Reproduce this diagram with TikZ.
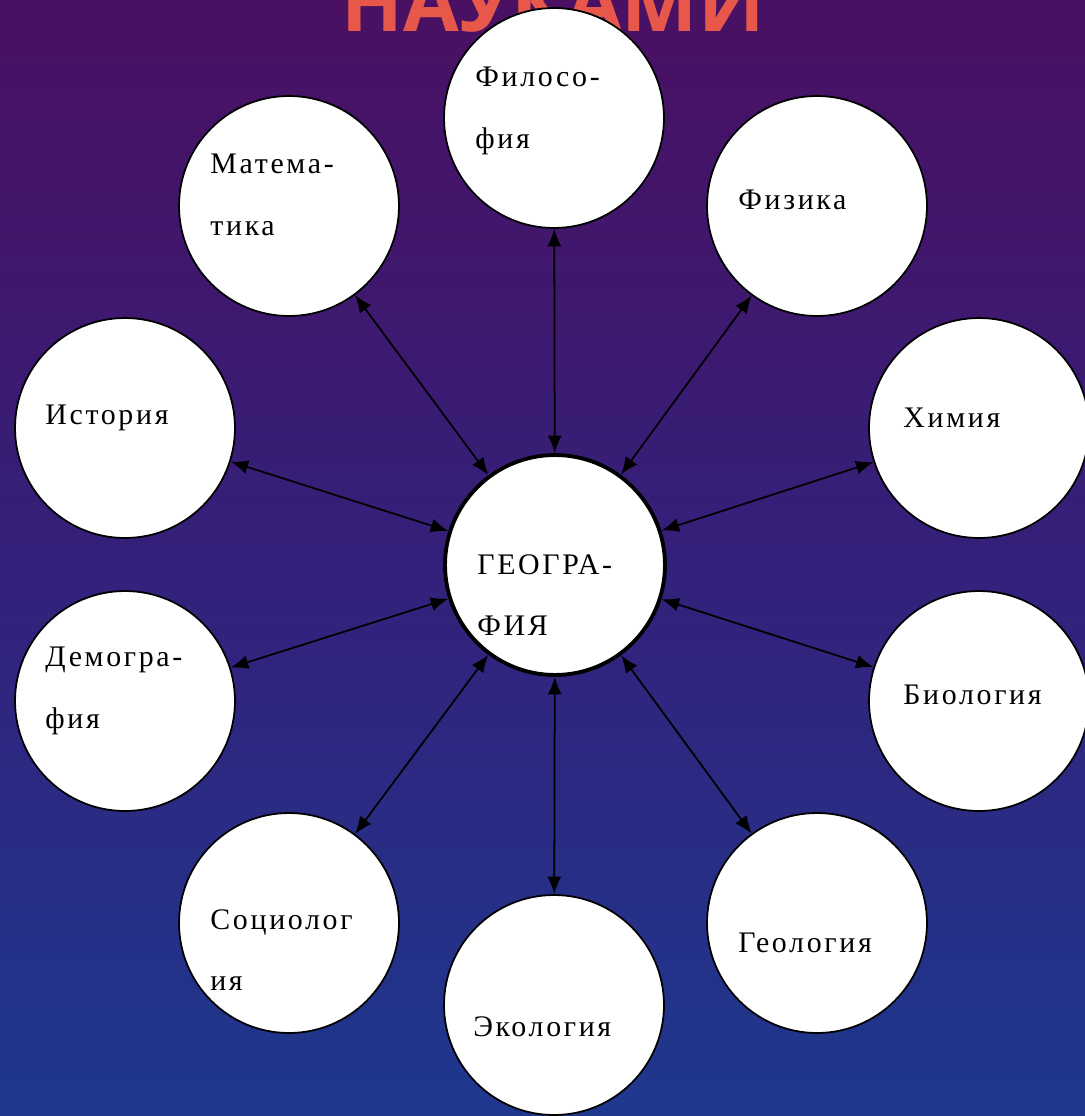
\documentclass[tikz,border=0pt]{standalone}
\usepackage{fontspec}
\setmainfont{Liberation Serif}[LetterSpace=9]
\newfontfamily\titlefont{Open Sans}
\usetikzlibrary{arrows.meta}

\definecolor{bgtop}{RGB}{74,16,98}
\definecolor{bgmid}{RGB}{52,32,122}
\definecolor{bgbot}{RGB}{30,56,142}
\definecolor{titlered}{RGB}{232,88,74}

\begin{document}
\begin{tikzpicture}[x=0.02cm,y=-0.02cm]
                \tikzset{disc/.style = {shape=circle,draw,fill=white,line width=1pt,minimum size=4.4cm,inner sep=0pt}}
                \tikzset{centre/.style = {disc,line width=2.2pt,minimum size=4.4cm}}
                \tikzset{lbl/.style = {anchor=west,inner sep=0pt,align=left,font=\fontsize{17}{35}\selectfont}}
                \tikzset{edge/.style = {{Latex[length=10pt,width=8pt]}-{Latex[length=10pt,width=8pt]},line width=1pt}}
                % background
                \clip (0,0) rectangle (1085,1116);
                \fill[top color=bgtop,bottom color=bgbot,middle color=bgmid] (0,0) rectangle (1085,1116);
                \node[text=titlered,font=\titlefont\bfseries\fontsize{46}{50}\selectfont,anchor=base] (title) at (553,31) {НАУКАМИ};

                % circles
                \node[centre] (geo) at (555,565) {};
                \node[disc] (fil) at (554,118) {};
                \node[disc] (mat) at (289,206) {};
                \node[disc] (fiz) at (817,206) {};
                \node[disc] (ist) at (125,428) {};
                \node[disc] (him) at (979,428) {};
                \node[disc] (dem) at (125,701) {};
                \node[disc] (bio) at (979,701) {};
                \node[disc] (soc) at (289,923) {};
                \node[disc] (geol) at (817,923) {};
                \node[disc] (eco) at (554,1005) {};

                % labels
                \node[lbl] (tgeo) at (477,595) {ГЕОГРА-\\ФИЯ};
                \node[lbl] (tfil) at (475,111) {Филосо-\\фия};
                \node[lbl] (tmat) at (210,195) {Матема-\\тика};
                \node[lbl] (tfiz) at (738,200) {Физика};
                \node[lbl] (tist) at (45,418) {История};
                \node[lbl] (thim) at (903,418) {Химия};
                \node[lbl] (tdem) at (45,691) {Демогра-\\фия};
                \node[lbl] (tbio) at (903,695) {Биология};
                \node[lbl] (tsoc) at (210,950) {Социолог\\ия};
                \node[lbl] (tgeol) at (738,943) {Геология};
                \node[lbl] (teco) at (473,1027) {Экология};

                % edges
                \draw[edge] (geo) to (fil);
                \draw[edge] (geo) to (mat);
                \draw[edge] (geo) to (fiz);
                \draw[edge] (geo) to (ist);
                \draw[edge] (geo) to (him);
                \draw[edge] (geo) to (dem);
                \draw[edge] (geo) to (bio);
                \draw[edge] (geo) to (soc);
                \draw[edge] (geo) to (geol);
                \draw[edge] (geo) to (eco);
\end{tikzpicture}
\end{document}
